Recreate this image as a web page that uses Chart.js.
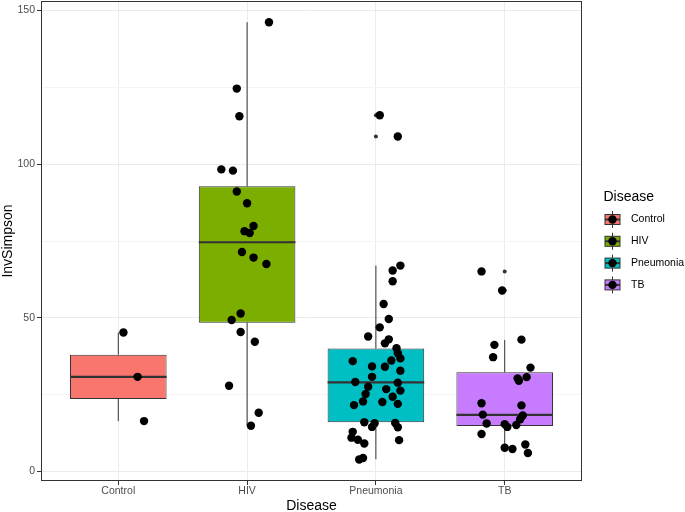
<!DOCTYPE html>
<html>
<head>
<meta charset="utf-8">
<script src="https://cdn.jsdelivr.net/npm/chart.js@4/dist/chart.umd.min.js"></script>
<style>
  html, body { margin: 0; padding: 0; background: #ffffff; }
  #wrap { width: 685px; height: 512px; position: relative; }
</style>
</head>
<body>
<div id="wrap"><canvas id="chart"></canvas></div>
<script>
// categories and fill colours (ggplot default hues)
const categories = ["Control", "HIV", "Pneumonia", "TB"];
const boxColors = ["#F8766D", "#7CAE00", "#00BFC4", "#C77CFF"];

// box statistics per category
const whiskerLow = [16.4, 14.9, 4.0, 7.3];
const boxQ1 = [23.6, 48.4, 16.0, 14.8];
const boxMedian = [30.8, 74.6, 29.0, 18.4];
const boxQ3 = [38.0, 92.8, 40.0, 32.3];
const whiskerHigh = [45.2, 146.2, 67.0, 42.8];

// outliers drawn by the boxplot (small grey dots)
const controlOutliers = [];
const hivOutliers = [];
const pneumoniaOutliers = [115.9, 109.0];
const tbOutliers = [65.1, 58.9];

// jittered raw values, with their horizontal jitter (in category units)
const controlValues = [45.2, 30.8, 16.4];
const controlJitter = [0.04, 0.15, 0.20];

const hivValues = [146.2, 124.6, 115.6, 98.3, 97.9, 91.1, 87.3, 79.9, 78.2, 77.6,
  71.4, 69.6, 67.5, 51.4, 49.3, 45.4, 42.2, 27.9, 19.1, 14.9];
const hivJitter = [0.17, -0.08, -0.06, -0.20, -0.11, -0.08, 0.00, 0.05, -0.02, 0.02,
  -0.04, 0.05, 0.15, -0.05, -0.12, -0.05, 0.06, -0.14, 0.09, 0.03];

const pneumoniaValues = [115.9, 109.0, 67.0, 65.4, 61.9, 54.5, 49.6, 46.9, 43.9, 43.0,
  41.7, 40.1, 38.5, 36.8, 35.9, 36.1, 34.2, 34.1, 32.8, 30.8,
  29.1, 28.9, 27.6, 26.8, 26.3, 25.2, 24.3, 22.8, 22.6, 22.0,
  21.6, 16.0, 15.7, 14.5, 15.8, 14.4, 12.9, 11.0, 10.3, 9.1,
  10.2, 3.9, 4.4];
const pneumoniaJitter = [0.03, 0.17, 0.19, 0.13, 0.13, 0.06, 0.10, 0.03, -0.06, 0.10,
  0.07, 0.16, 0.17, 0.19, -0.18, 0.12, -0.03, 0.07, 0.19, -0.03,
  -0.16, 0.17, -0.06, 0.08, 0.19, -0.08, 0.13, -0.10, 0.05, 0.17,
  -0.17, -0.09, -0.01, -0.03, 0.15, 0.17, -0.18, -0.19, -0.14, -0.09,
  0.18, -0.13, -0.10];

const tbValues = [65.1, 58.9, 42.9, 41.2, 37.2, 33.8, 30.7, 30.3, 29.5, 22.2,
  21.5, 18.5, 18.2, 17.0, 15.6, 15.4, 15.1, 14.5, 12.2, 8.8,
  7.7, 7.3, 6.0];
const tbJitter = [-0.18, -0.02, 0.13, -0.08, -0.09, 0.20, 0.17, 0.10, 0.11, -0.18,
  0.13, -0.17, 0.14, 0.12, -0.14, 0.00, 0.09, 0.02, -0.18, 0.16,
  0.00, 0.06, 0.18];

// axis ticks
const yTicks = [0, 25, 50, 75, 100, 125, 150];
const yLabelled = [0, 50, 100, 150];

const allValues = [controlValues, hivValues, pneumoniaValues, tbValues];
const allJitter = [controlJitter, hivJitter, pneumoniaJitter, tbJitter];
const allOutliers = [controlOutliers, hivOutliers, pneumoniaOutliers, tbOutliers];

// build datasets from the arrays above
const jitterPoints = [];
allValues.forEach((vals, i) => {
  vals.forEach((v, j) => jitterPoints.push({ x: i + 1 + allJitter[i][j], y: v }));
});

const outlierPoints = [];
allOutliers.forEach((vals, i) => vals.forEach(v => outlierPoints.push({ x: i + 1, y: v })));

// whiskers: vertical segments separated by gaps
const whiskerSegments = [];
categories.forEach((c, i) => {
  whiskerSegments.push({ x: i + 1, y: whiskerLow[i] }, { x: i + 1, y: boxQ1[i] }, { x: i + 1, y: null });
  whiskerSegments.push({ x: i + 1, y: boxQ3[i] }, { x: i + 1, y: whiskerHigh[i] }, { x: i + 1, y: null });
});

// medians: horizontal segments across the box (box width 0.75)
const medianSegments = [];
categories.forEach((c, i) => {
  medianSegments.push({ x: i + 1 - 0.375, y: boxMedian[i] }, { x: i + 1 + 0.375, y: boxMedian[i] }, { x: i + 1, y: null });
});

const boxData = categories.map((c, i) => ({ x: i + 1, y: [boxQ1[i], boxQ3[i]] }));

const FONT = "'Liberation Sans', Arial, sans-serif";

// panel border like theme_bw
const framePlugin = {
  id: "frame",
  afterDraw(chart) {
    const a = chart.chartArea;
    const ctx = chart.ctx;
    ctx.save();
    ctx.strokeStyle = "#333333";
    ctx.lineWidth = 1;
    ctx.strokeRect(Math.round(a.left) + 0.5, Math.round(a.top) + 0.5,
      Math.round(a.right - a.left) - 1, Math.round(a.bottom - a.top) - 1);
    ctx.restore();
  }
};

// ggplot style legend with boxplot + point keys
const legendPlugin = {
  id: "ggLegend",
  afterDraw(chart) {
    const ctx = chart.ctx;
    const left = chart.chartArea.right + 21;
    ctx.save();
    ctx.fillStyle = "#000000";
    ctx.font = "14px " + FONT;
    ctx.textBaseline = "middle";
    ctx.textAlign = "left";
    ctx.fillText("Disease", left + 0.5, 197);
    categories.forEach((c, i) => {
      const cy = 219.5 + i * 21.8;
      const cx = left + 9.5;
      // whisker
      ctx.strokeStyle = "#333333";
      ctx.lineWidth = 1;
      ctx.beginPath();
      ctx.moveTo(cx, cy - 8.5);
      ctx.lineTo(cx, cy + 8.5);
      ctx.stroke();
      // box
      ctx.fillStyle = boxColors[i];
      ctx.fillRect(cx - 7.5, cy - 5, 15, 10);
      ctx.strokeRect(cx - 7.5, cy - 5, 15, 10);
      ctx.lineWidth = 2;
      ctx.beginPath();
      ctx.moveTo(cx - 7.5, cy);
      ctx.lineTo(cx + 7.5, cy);
      ctx.stroke();
      // point
      ctx.fillStyle = "#000000";
      ctx.beginPath();
      ctx.arc(cx, cy, 4.2, 0, Math.PI * 2);
      ctx.fill();
      // label
      ctx.font = "10.5px " + FONT;
      ctx.fillText(c, left + 28, cy);
    });
    ctx.restore();
  }
};

new Chart(document.getElementById("chart"), {
  type: "bar",
  data: {
    datasets: [
      {
        type: "scatter",
        label: "points",
        data: jitterPoints,
        backgroundColor: "#000000",
        borderWidth: 0,
        pointRadius: 4.2,
        order: 0
      },
      {
        type: "scatter",
        label: "outliers",
        data: outlierPoints,
        backgroundColor: "#333333",
        borderWidth: 0,
        pointRadius: 2,
        order: 1
      },
      {
        type: "line",
        label: "median",
        data: medianSegments,
        borderColor: "#333333",
        borderWidth: 2.2,
        pointRadius: 0,
        spanGaps: false,
        order: 2
      },
      {
        type: "bar",
        label: "box",
        data: boxData,
        backgroundColor: boxColors,
        borderColor: "#333333",
        borderWidth: 1,
        borderSkipped: false,
        categoryPercentage: 0.75,
        barPercentage: 1.0,
        grouped: false,
        order: 3
      },
      {
        type: "line",
        label: "whiskers",
        data: whiskerSegments,
        borderColor: "#333333",
        borderWidth: 1,
        pointRadius: 0,
        spanGaps: false,
        order: 4
      }
    ]
  },
  options: {
    responsive: true,
    maintainAspectRatio: false,
    animation: false,
    layout: { autoPadding: false, padding: { top: 1, right: 103, left: 0, bottom: 0 } },
    plugins: {
      legend: { display: false },
      tooltip: { enabled: false }
    },
    scales: {
      x: {
        type: "linear",
        min: 0.4,
        max: 4.6,
        offset: false,
        afterBuildTicks: axis => { axis.ticks = categories.map((c, i) => ({ value: i + 1 })); },
        afterFit: axis => { axis.height = 31; axis.paddingLeft = 0; axis.paddingRight = 0; },
        border: { display: false },
        grid: { offset: false, color: "#ebebeb", lineWidth: 1, tickLength: 4, tickColor: "#333333" },
        ticks: {
          autoSkip: false,
          maxRotation: 0,
          padding: 0,
          color: "#4d4d4d",
          font: { family: FONT, size: 10.5 },
          callback: v => categories[v - 1]
        },
        title: {
          display: true,
          text: "Disease",
          color: "#000000",
          font: { family: FONT, size: 14 },
          padding: { top: 0, bottom: -2.5 }
        }
      },
      y: {
        type: "linear",
        min: -3.1,
        max: 153.1,
        afterBuildTicks: axis => { axis.ticks = yTicks.map(v => ({ value: v })); },
        afterFit: axis => { axis.width = 41; axis.paddingTop = 0; axis.paddingBottom = 0; },
        border: { display: false },
        grid: {
          color: ctx => yLabelled.includes(ctx.tick.value) ? "#ebebeb" : "#f4f4f4",
          lineWidth: 1,
          tickLength: 4,
          tickColor: ctx => yLabelled.includes(ctx.tick.value) ? "#333333" : "rgba(0,0,0,0)"
        },
        ticks: {
          autoSkip: false,
          padding: 2,
          color: "#4d4d4d",
          font: { family: FONT, size: 10.5 },
          callback: v => yLabelled.includes(v) ? v : ""
        },
        title: {
          display: true,
          text: "InvSimpson",
          color: "#000000",
          font: { family: FONT, size: 14 },
          padding: { top: 0, bottom: 0 }
        }
      }
    }
  },
  plugins: [framePlugin, legendPlugin]
});
</script>
</body>
</html>
